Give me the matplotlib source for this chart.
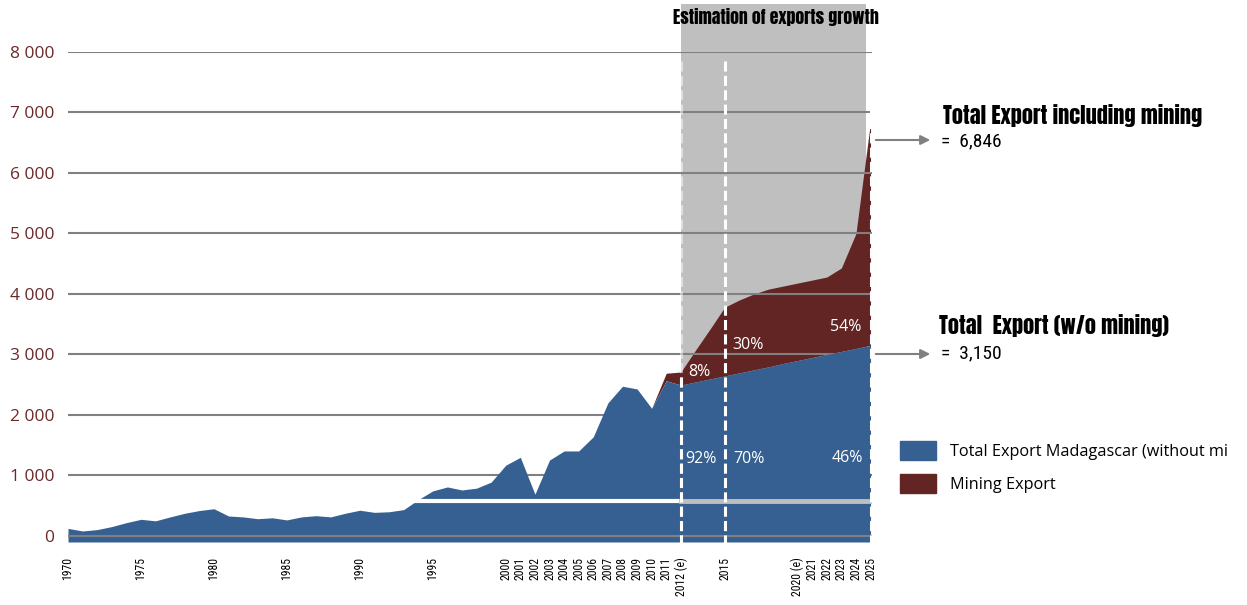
import matplotlib
matplotlib.use("Agg")
import matplotlib.pyplot as plt
from matplotlib.patches import Patch, Rectangle

plt.rcParams['font.family'] = ['Open Sans', 'DejaVu Sans']

# data (million USD)
years = list(range(1970, 2026))
export_wo_mining = [125, 82, 105, 155, 220, 275, 250, 315, 375, 420,
                    450, 330, 315, 285, 300, 265, 315, 335, 315, 375,
                    425, 390, 400, 435, 600, 745, 810, 760, 790, 890,
                    1170, 1300, 690, 1255, 1405, 1405, 1640, 2200, 2475, 2430,
                    2110, 2565, 2495, 2545, 2595, 2645, 2695, 2745, 2795, 2850,
                    2900, 2950, 3000, 3050, 3100, 3150]
mining_export = [0] * 41 + [125, 215, 525, 825, 1135, 1205, 1255, 1285, 1280,
                            1280, 1280, 1280, 1380, 1900, 3696]
year_labels = {1970: '1970', 1975: '1975', 1980: '1980', 1985: '1985',
               1990: '1990', 1995: '1995', 2000: '2000', 2001: '2001',
               2002: '2002', 2003: '2003', 2004: '2004', 2005: '2005',
               2006: '2006', 2007: '2007', 2008: '2008', 2009: '2009',
               2010: '2010', 2011: '2011', 2012: '2012 (e)', 2015: '2015',
               2020: '2020 (e)', 2021: '2021', 2022: '2022', 2023: '2023',
               2024: '2024', 2025: '2025'}
y_ticks = [0, 1000, 2000, 3000, 4000, 5000, 6000, 7000, 8000]
y_labels = ['0', '1 000', '2 000', '3 000', '4 000', '5 000', '6 000', '7 000', '8 000']
marker_years = [2012, 2015, 2025]
pct_mining = [('8%', 2013.3, 2711), ('30%', 2016.6, 3157), ('54%', 2023.3, 3455)]
pct_wo = [('92%', 2013.4, 1273), ('70%', 2016.7, 1273), ('46%', 2023.4, 1289)]

BLUE = '#366092'
RED = '#632523'
GREY = '#BFBFBF'
GRID = '#808080'
narrow = ['Roboto Condensed', 'DejaVu Sans']
heavy = ['Anton', 'Roboto Condensed', 'DejaVu Sans']

W, H = 1247, 605
fig = plt.figure(figsize=(W / 100, H / 100), dpi=100)
ax = fig.add_axes([68 / W, 63 / H, (872 - 68) / W, 490 / H])
ax.set_xlim(1970, 2025.1)
ax.set_ylim(-100, 8000)

total = [a + b for a, b in zip(export_wo_mining, mining_export)]

# estimation zone
ax.add_patch(Rectangle((2012, -100), 12.66, 8890, color=GREY, lw=0,
                       zorder=0.5, clip_on=False))
ax.text(2018.5, 8580, 'Estimation of exports growth', ha='center', va='center',
        fontsize=12.8, family=heavy)

ax.fill_between(years, export_wo_mining, total, color=RED, lw=0, zorder=1)
for v in y_ticks[1:]:
    ax.axhline(v, color=GRID, lw=1.5, zorder=1.5)
ax.fill_between(years, -100, export_wo_mining, color=BLUE, lw=0, zorder=2)
ax.axhline(0, color=GRID, lw=1.5, zorder=3)

# break line
ax.plot([1993.8, 2012], [580, 580], color='white', lw=3, zorder=3)
ax.plot([2012, 2025.1], [580, 580], color=GREY, lw=3.5, zorder=3)

# dashed markers
for yr in marker_years:
    ax.plot([yr, yr], [-150, 7900], color='white', lw=2.2, ls=(0, (3.3, 1.4)),
            zorder=4, clip_on=False, alpha=0.5 if yr == 2012 else 1)
ax.plot([2012, 2012], [-150, 2700], color='white', lw=2.2, ls=(0, (3.3, 1.4)),
        zorder=4, clip_on=False)

for t, x, y in pct_mining + pct_wo:
    ax.text(x, y, t, color='white', fontsize=11.5, ha='center', va='center', zorder=5)

ax.set_xticks(years)
ax.set_xticklabels([year_labels.get(y, '') for y in years], rotation=90,
                   fontsize=8.5, family=narrow)
ax.set_yticks(y_ticks)
ax.set_yticklabels(y_labels, fontsize=12.5, color='#6B2A2A')
ax.tick_params(axis='x', length=0, pad=11)
ax.tick_params(axis='y', length=0, pad=10)
for s in ax.spines.values():
    s.set_visible(False)

# annotations on the right
arrow = dict(arrowstyle='-|>', color=GRID, lw=1.5, mutation_scale=14)
ax.annotate('', xy=(933 / W, 1 - 140 / H), xytext=(873 / W, 1 - 140 / H),
            xycoords='figure fraction', textcoords='figure fraction', arrowprops=arrow)
ax.annotate('', xy=(933 / W, 1 - 354 / H), xytext=(873 / W, 1 - 354 / H),
            xycoords='figure fraction', textcoords='figure fraction', arrowprops=arrow)
fig.text(943 / W, 1 - 116 / H, 'Total Export including mining', fontsize=16,
         family=heavy, va='center')
fig.text(941 / W, 1 - 141 / H, '=  6,846', fontsize=14, family=narrow, va='center')
fig.text(939 / W, 1 - 326 / H, 'Total  Export (w/o mining)', fontsize=16,
         family=heavy, va='center')
fig.text(941 / W, 1 - 353 / H, '=  3,150', fontsize=14, family=narrow, va='center')

handles = [Patch(color=BLUE), Patch(color=RED)]
ax.legend(handles, ['Total Export Madagascar (without mi', 'Mining Export'],
          loc='upper left', bbox_to_anchor=(900 / W, 1 - 441 / H),
          bbox_transform=fig.transFigure, frameon=False, fontsize=11.7,
          handlelength=2.2, handleheight=1.4, handletextpad=0.9,
          labelspacing=0.9, borderpad=0, borderaxespad=0)

fig.savefig('out.png', dpi=100)
